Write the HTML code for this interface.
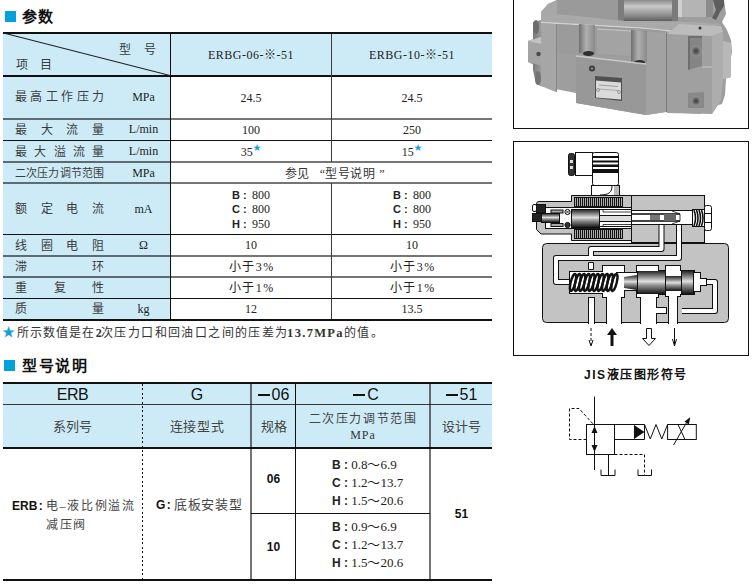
<!DOCTYPE html>
<html lang="zh-CN">
<head>
<meta charset="utf-8">
<style>
*{margin:0;padding:0;box-sizing:border-box}
html,body{width:752px;height:587px;background:#fff;overflow:hidden;position:relative}
body{font-family:"Liberation Serif",serif;color:#333}
.a{position:absolute}
.sq{position:absolute;width:11px;height:11px;background:#03a1dc}
.h{position:absolute;font-family:"Liberation Sans",sans-serif;font-weight:bold;font-size:15px;line-height:15px;color:#111;letter-spacing:1px;white-space:nowrap}
.bg{position:absolute;background:#cdebf6}
.hl{position:absolute;height:1px}
.vl{position:absolute;width:1px}
.k{background:#111}
.g{background:rgba(0,0,0,0.54)}
.g2{background:rgba(0,0,0,0.54);height:2px}
.d{background:#3a3a3a}
.t{position:absolute;white-space:nowrap;color:#3a3a3a}
.lab{position:absolute;left:15px;width:89px;display:flex;justify-content:space-between;font-size:12px;line-height:12px;color:#3c3c3c}
.unit{position:absolute;left:118px;width:51px;text-align:center;font-size:12px;line-height:12px;color:#222}
.c2{position:absolute;left:171px;width:160px;text-align:center;font-size:12px;line-height:12px;color:#222}
.c3{position:absolute;left:332px;width:160px;text-align:center;font-size:12px;line-height:12px;color:#222}
.sans{font-family:"Liberation Sans",sans-serif}
.b{font-weight:bold}
.star{color:#12a0da}
</style>
</head>
<body>
<!-- Section 1 heading -->
<div class="sq" style="left:5px;top:11px"></div>
<div class="h" style="left:22px;top:9px">参数</div>

<!-- Table 1 backgrounds -->
<div class="bg" style="left:3px;top:34px;width:489px;height:41px"></div>
<div class="bg" style="left:3px;top:77px;width:167px;height:242px"></div>

<!-- Table 1 lines -->
<div class="hl k" style="left:3px;top:32px;width:489px;height:2px"></div>
<div class="hl k" style="left:3px;top:75px;width:489px;height:2px"></div>
<div class="hl g2" style="left:3px;top:118px;width:489px"></div>
<div class="hl k" style="left:3px;top:140px;width:489px"></div>
<div class="hl g2" style="left:3px;top:161px;width:489px"></div>
<div class="hl g2" style="left:3px;top:182px;width:489px"></div>
<div class="hl k" style="left:3px;top:234px;width:489px"></div>
<div class="hl g2" style="left:3px;top:255px;width:489px"></div>
<div class="hl g2" style="left:3px;top:276px;width:489px"></div>
<div class="hl k" style="left:3px;top:298px;width:489px"></div>
<div class="hl k" style="left:3px;top:319px;width:489px;height:2px"></div>
<div class="vl k" style="left:170px;top:32px;height:289px"></div>
<div class="vl d" style="left:331px;top:34px;height:128px"></div>
<div class="vl d" style="left:331px;top:183px;height:136px"></div>
<svg class="a" style="left:0;top:0" width="200" height="80"><line x1="3.5" y1="33" x2="170" y2="75.5" stroke="#222" stroke-width="1.1"/></svg>

<!-- Table 1 header text -->
<div class="t" style="left:119px;top:43.5px;font-size:12px;line-height:12px;letter-spacing:13px">型号</div>
<div class="t" style="left:16px;top:59px;font-size:12px;line-height:12px;letter-spacing:12px">项目</div>
<div class="c2" style="top:49px;letter-spacing:0.5px">ERBG-06-※-51</div>
<div class="c3" style="top:49px;letter-spacing:0.5px">ERBG-10-※-51</div>

<!-- Row labels -->
<div class="lab" style="top:91px"><span>最</span><span>高</span><span>工</span><span>作</span><span>压</span><span>力</span></div>
<div class="unit" style="top:91px">MPa</div>
<div class="c2" style="top:92px">24.5</div>
<div class="c3" style="top:92px">24.5</div>

<div class="lab" style="top:124px"><span>最</span><span>大</span><span>流</span><span>量</span></div>
<div class="unit" style="top:123px">L/min</div>
<div class="c2" style="top:124px">100</div>
<div class="c3" style="top:124px">250</div>

<div class="lab" style="top:146px"><span>最</span><span>大</span><span>溢</span><span>流</span><span>量</span></div>
<div class="unit" style="top:145px">L/min</div>
<div class="c2" style="top:146px">35<span class="star sans" style="font-size:8px;position:relative;top:-6.5px;margin-left:0.5px">★</span></div>
<div class="c3" style="top:146px">15<span class="star sans" style="font-size:8px;position:relative;top:-6.5px;margin-left:0.5px">★</span></div>

<div class="lab" style="top:168px;font-size:11px;line-height:11px"><span>二</span><span>次</span><span>压</span><span>力</span><span>调</span><span>节</span><span>范</span><span>围</span></div>
<div class="unit" style="top:167px">MPa</div>
<div class="a" style="left:285px;top:168px;font-size:12px;line-height:12px;color:#333;white-space:nowrap">参见<span style="display:inline-block;width:16px;text-align:right">“</span><span style="letter-spacing:0.7px">型号说明</span><span style="display:inline-block;width:12px;text-align:center">”</span></div>

<div class="lab" style="top:203px"><span>额</span><span>定</span><span>电</span><span>流</span></div>
<div class="unit" style="top:203px">mA</div>
<div class="c2" style="top:188px;line-height:14.3px;text-align:left;padding-left:61px"><span class="sans b" style="font-size:11px">B</span> <span class="sans b" style="font-size:11px">:</span>&nbsp;&thinsp;800<br><span class="sans b" style="font-size:11px">C</span> <span class="sans b" style="font-size:11px">:</span>&nbsp;&thinsp;800<br><span class="sans b" style="font-size:11px">H</span> <span class="sans b" style="font-size:11px">:</span>&nbsp;&thinsp;950</div>
<div class="c3" style="top:188px;line-height:14.3px;text-align:left;padding-left:61px"><span class="sans b" style="font-size:11px">B</span> <span class="sans b" style="font-size:11px">:</span>&nbsp;&thinsp;800<br><span class="sans b" style="font-size:11px">C</span> <span class="sans b" style="font-size:11px">:</span>&nbsp;&thinsp;800<br><span class="sans b" style="font-size:11px">H</span> <span class="sans b" style="font-size:11px">:</span>&nbsp;&thinsp;950</div>

<div class="lab" style="top:240px"><span>线</span><span>圈</span><span>电</span><span>阻</span></div>
<div class="unit" style="top:239px">Ω</div>
<div class="c2" style="top:239px">10</div>
<div class="c3" style="top:239px">10</div>

<div class="lab" style="top:261px"><span>滞</span><span>环</span></div>
<div class="c2" style="top:261px;letter-spacing:1.5px;text-indent:1.5px">小于3%</div>
<div class="c3" style="top:261px;letter-spacing:1.5px;text-indent:1.5px">小于3%</div>

<div class="lab" style="top:282px"><span>重</span><span>复</span><span>性</span></div>
<div class="c2" style="top:282px;letter-spacing:1.5px;text-indent:1.5px">小于1%</div>
<div class="c3" style="top:282px;letter-spacing:1.5px;text-indent:1.5px">小于1%</div>

<div class="lab" style="top:303px"><span>质</span><span>量</span></div>
<div class="unit" style="top:303px">kg</div>
<div class="c2" style="top:303px">12</div>
<div class="c3" style="top:303px">13.5</div>

<!-- footnote -->
<div class="t star sans" style="left:2px;top:325px;font-size:13px;line-height:13px">★</div>
<div class="t" style="left:16.5px;top:326.5px;font-size:12px;line-height:12px;color:#333"><span style="letter-spacing:1.2px">所示数值是在</span><span style="font-size:12px;font-weight:bold;letter-spacing:-0.8px">2</span><span style="letter-spacing:1.4px">次压力口和回油口之间的压差</span><span>为</span><span style="font-size:12.5px;font-weight:bold;letter-spacing:1.3px">13.7MPa</span><span style="letter-spacing:1.4px">的值。</span></div>

<!-- Section 2 heading -->
<div class="sq" style="left:4px;top:360px"></div>
<div class="h" style="left:22px;top:358px;letter-spacing:1.7px">型号说明</div>

<!-- Table 2 -->
<div class="bg" style="left:3px;top:384px;width:489px;height:63px"></div>
<div class="hl k" style="left:3px;top:382px;width:489px;height:2px"></div>
<div class="hl d" style="left:3px;top:404px;width:489px"></div>
<div class="hl k" style="left:3px;top:447px;width:489px;height:2px"></div>
<div class="hl k" style="left:251px;top:513px;width:179px"></div>
<div class="hl k" style="left:3px;top:579px;width:489px;height:2px"></div>
<div class="a" style="left:142px;top:384px;width:1px;height:195px;background:repeating-linear-gradient(to bottom,#111 0 2px,transparent 2px 4.4px)"></div>
<div class="vl g" style="left:250px;top:384px;height:195px;width:2px"></div>
<div class="vl k" style="left:295px;top:384px;height:195px"></div>
<div class="vl g" style="left:429px;top:384px;height:195px;width:2px"></div>

<div class="a sans" style="left:3px;width:139px;top:387px;text-align:center;font-size:16px;line-height:16px;letter-spacing:-0.4px;color:#111">ERB</div>
<div class="a sans" style="left:143px;width:108px;top:387px;text-align:center;font-size:16px;line-height:16px;color:#111">G</div>
<div class="a sans" style="left:252px;width:43px;top:387px;text-align:center;font-size:16px;line-height:16px;color:#111"><span style="display:inline-block;width:12px;height:2px;background:#111;vertical-align:4.5px;margin-right:2px"></span>06</div>
<div class="a sans" style="left:299px;width:134px;top:387px;text-align:center;font-size:16px;line-height:16px;color:#111"><span style="display:inline-block;width:12px;height:2px;background:#111;vertical-align:4.5px;margin-right:2px"></span>C</div>
<div class="a sans" style="left:431px;width:61px;top:387px;text-align:center;font-size:16px;line-height:16px;color:#111"><span style="display:inline-block;width:12px;height:2px;background:#111;vertical-align:4.5px;margin-right:2px"></span>51</div>

<div class="a" style="left:3px;width:139px;top:420px;text-align:center;font-size:13px;line-height:13px;color:#444">系列号</div>
<div class="a" style="left:143px;width:108px;top:420px;text-align:center;font-size:13px;line-height:13px;letter-spacing:0.7px;color:#444">连接型式</div>
<div class="a" style="left:252px;width:43px;top:420px;text-align:center;font-size:13px;line-height:13px;color:#444">规格</div>
<div class="a" style="left:296px;width:134px;top:413px;text-align:center;font-size:12px;line-height:12px;letter-spacing:1.6px;color:#444">二次压力调节范围</div>
<div class="a" style="left:296px;width:134px;top:429px;text-align:center;font-size:12px;line-height:12px;letter-spacing:1px;color:#333">MPa</div>
<div class="a" style="left:431px;width:61px;top:420px;text-align:center;font-size:13px;line-height:13px;color:#444">设计号</div>

<div class="a" style="left:12px;top:497px;font-size:12px;line-height:18.6px;color:#444;white-space:nowrap"><span class="sans b" style="color:#111">ERB</span><span class="sans b" style="color:#111;margin-left:1.5px">:</span> <span style="letter-spacing:1.7px">电–液比例溢流</span><br><span style="padding-left:34px;letter-spacing:1.7px">减压阀</span></div>
<div class="a" style="left:156px;top:498px;font-size:13px;line-height:13px;color:#444;white-space:nowrap"><span class="sans b" style="color:#111;font-size:12px">G</span><span class="sans b" style="color:#111;font-size:12px;margin-left:1.5px">:</span> <span style="letter-spacing:0.7px">底板安装型</span></div>

<div class="a sans b" style="left:252px;width:43px;top:473px;text-align:center;font-size:12px;line-height:12px;color:#111">06</div>
<div class="a sans b" style="left:252px;width:43px;top:541px;text-align:center;font-size:12px;line-height:12px;color:#111">10</div>
<div class="a sans b" style="left:431px;width:61px;top:508px;text-align:center;font-size:12px;line-height:12px;color:#111">51</div>

<div class="a" style="left:332px;top:456px;font-size:13px;line-height:17px;color:#222;white-space:nowrap"><span class="sans b" style="font-size:12px">B</span> <span class="sans b" style="font-size:12px">:</span> 0.8～6.9<br><span class="sans b" style="font-size:12px">C</span> <span class="sans b" style="font-size:12px">:</span> 1.2～13.7<br><span class="sans b" style="font-size:12px">H</span> <span class="sans b" style="font-size:12px">:</span> 1.5～20.6</div>
<div class="a" style="left:332px;top:518px;font-size:13px;line-height:17px;color:#222;white-space:nowrap"><span class="sans b" style="font-size:12px">B</span> <span class="sans b" style="font-size:12px">:</span> 0.9～6.9<br><span class="sans b" style="font-size:12px">C</span> <span class="sans b" style="font-size:12px">:</span> 1.2～13.7<br><span class="sans b" style="font-size:12px">H</span> <span class="sans b" style="font-size:12px">:</span> 1.5～20.6</div>

<!-- Right side boxes -->
<div class="a" style="left:513px;top:-2px;width:236px;height:131px;border:1.5px solid #111"></div>
<div class="a" style="left:513px;top:141px;width:236px;height:215px;border:1.5px solid #111"></div>
<div class="a sans b" style="left:584px;top:369px;font-size:12px;line-height:12px;letter-spacing:1.5px;color:#111;white-space:nowrap">JIS液压图形符号</div>


<!-- PHOTO -->
<svg class="a" style="left:500px;top:0" width="252" height="140" viewBox="500 0 252 140">
<defs>
<linearGradient id="cyl" x1="0" y1="0" x2="0" y2="1"><stop offset="0" stop-color="#8a8a8a"/><stop offset="0.3" stop-color="#c8c8c8"/><stop offset="0.75" stop-color="#8a8a8a"/><stop offset="1" stop-color="#5e5e5e"/></linearGradient>
<linearGradient id="boss" x1="0" y1="0" x2="1" y2="0"><stop offset="0" stop-color="#6e6e6e"/><stop offset="0.45" stop-color="#b0b0b0"/><stop offset="1" stop-color="#888"/></linearGradient>
<linearGradient id="lb" x1="0" y1="0" x2="1" y2="0"><stop offset="0" stop-color="#7a7a7a"/><stop offset="1" stop-color="#9a9a9a"/></linearGradient>
<radialGradient id="bolt"><stop offset="0" stop-color="#3a3a3a"/><stop offset="0.5" stop-color="#666"/><stop offset="1" stop-color="#999"/></radialGradient>
</defs>
<!-- silhouette -->
<path d="M541,12 L548,4 L557,0 L724,0 L726,14 L722,22 L727,30 L731,40 L732,52 L730,62 L726,79 L725,95 L722,104 L708,108 L700,114 L666,112 L646,115 L576,103 L576,93 L540,86 L540,68 L528,62 L528,41 L541,36 Z" fill="#9e9e9e"/>
<!-- left darker -->
<path d="M541,12 L548,4 L557,0 L557,14 L545,17 L541,22 Z" fill="#a8a8a8"/>
<path d="M533,22 L541,20 L541,86 L536,84 L533,70 Z" fill="url(#lb)"/>
<!-- upper cover -->
<path d="M557,0 L624,0 L624,21 L557,14 Z" fill="#9a9a9a"/>
<path d="M618,0 L624,0 L624,21 L618,20 Z" fill="#7c7c7c"/>
<!-- top surface band -->
<path d="M541,17 L557,14 L624,21 L690,22 L722,24 L690,33 L640,28 L541,23 Z" fill="#a9a9a9"/>
<path d="M541,22.5 L640,28 L680,32" stroke="#d2d2d2" stroke-width="1.4" fill="none"/>
<!-- cylinder -->
<rect x="624" y="0" width="54" height="21" fill="url(#cyl)"/>
<rect x="672" y="0" width="6" height="21" fill="#7a7a7a"/>
<!-- nut -->
<path d="M678,0 L713,0 L713,17 L678,17 Z" fill="#b4b4b4"/>
<path d="M678,0 L682,0 L682,17 L678,17 Z" fill="#d0d0d0"/>
<path d="M706,0 L713,0 L713,17 L706,17 Z" fill="#8c8c8c"/>
<!-- chain -->
<path d="M713,0 L724,0 L724,6 L720,12 L716,20 L712,18 L716,10 Z" fill="#5e5e5e"/>
<!-- left bolt heads -->
<ellipse cx="536" cy="27" rx="3" ry="7" fill="#6c6c6c"/>
<ellipse cx="538" cy="78" rx="3" ry="7" fill="#747474"/>
<!-- side block -->
<path d="M528,41 L541,37 L557,42 L557,70 L528,62 Z" fill="#a4a4a4"/>
<path d="M528,41 L541,37 L557,42 L541,44 Z" fill="#c2c2c2"/>
<path d="M541,44 L557,42 L557,70 L541,66 Z" fill="#9a9a9a"/>
<circle cx="538.5" cy="54" r="2.2" fill="#4a4a4a"/>
<!-- left main body front -->
<path d="M541,23 L556,24 L556,92 L541,86 Z" fill="#a6a6a6"/>
<line x1="556.5" y1="24" x2="556.5" y2="92" stroke="#888" stroke-width="1"/>
<!-- middle upper front face -->
<path d="M557,24 L646,29 L666,31 L666,58 L576,55 L557,53 Z" fill="#9b9b9b"/>
<path d="M597,28 L631,30 L631,56 L597,54 Z" fill="#a3a3a3"/>
<path d="M597,29 L631,31" stroke="#c6c6c6" stroke-width="1.2"/>
<!-- bosses -->
<path d="M579,24 L595,25 L595,54 L579,53 Z" fill="url(#boss)"/>
<ellipse cx="588.5" cy="53.5" rx="5.5" ry="2.6" fill="#2e2e2e"/>
<path d="M631,30 L647,31 L647,63 L631,62 Z" fill="url(#boss)"/>
<ellipse cx="639.5" cy="62.5" rx="5.5" ry="2.6" fill="#2e2e2e"/>
<!-- front plate -->
<path d="M576,56 L646,64 L646,115 L576,103 Z" fill="#989898"/>
<path d="M576,56 L646,64" stroke="#c8c8c8" stroke-width="1.5"/>
<circle cx="592" cy="68.5" r="3" fill="#3a3a3a"/>
<circle cx="592" cy="68.5" r="1.2" fill="#8a8a8a"/>
<!-- nameplate -->
<path d="M595,76 L622,78 L622,101 L595,98 Z" fill="#505050"/>
<path d="M596,80.5 L621,82.5 L621,99.5 L596,97.5 Z" fill="#dadada"/>
<path d="M599,85 L618,86.5" stroke="#999" stroke-width="1"/>
<path d="M599,89 L618,90.5" stroke="#aaa" stroke-width="1"/>
<circle cx="598" cy="90" r="1.5" fill="none" stroke="#888" stroke-width="0.8"/>
<circle cx="619" cy="92" r="1.5" fill="none" stroke="#888" stroke-width="0.8"/>
<!-- middle column -->
<path d="M647,31 L666,33 L666,112 L646,115 L646,64 L647,63 Z" fill="#a2a2a2"/>
<line x1="666.5" y1="33" x2="666.5" y2="112" stroke="#7a7a7a" stroke-width="1"/>
<!-- right block -->
<path d="M667,34 L679,24 L721,26 L723,32 L723,41 L731,43 L731,77 L723,79 L721,100 L712,114 L667,113 Z" fill="#a0a0a0"/>
<path d="M667,34 L679,24 L721,26 L723,32 L712,36 Z" fill="#bcbcbc"/>
<path d="M712,36 L723,32 L723,41 L731,43 L731,77 L723,79 L721,100 L712,114 Z" fill="#adadad"/>
<path d="M723,41 L731,43 L731,77 L723,79 Z" fill="#b8b8b8"/>
<path d="M688,36 L702,36 L702,66 L688,70 Z" fill="#858585"/>
<path d="M688,36 L702,36 L702,38 L690,38 L690,69 L688,70 Z" fill="#6e6e6e"/>
<circle cx="696" cy="51" r="5.5" fill="url(#bolt)"/>
<path d="M688,93 L704,92 L704,108 L688,108 Z" fill="#888"/>
<circle cx="696" cy="101" r="5" fill="url(#bolt)"/>
<circle cx="700" cy="28" r="1.5" fill="#333"/>
<path d="M702,67 L712,67" stroke="#c4c4c4" stroke-width="1"/>
</svg>

<!-- SECTION DIAGRAM -->
<svg class="a" style="left:500px;top:140px" width="252" height="220" viewBox="500 140 252 220">
<defs>
<linearGradient id="arm" x1="0" y1="0" x2="0" y2="1"><stop offset="0" stop-color="#222"/><stop offset="0.45" stop-color="#e0e0e0"/><stop offset="0.6" stop-color="#999"/><stop offset="1" stop-color="#111"/></linearGradient>
<pattern id="coil" width="2" height="10" patternUnits="userSpaceOnUse"><rect width="2" height="10" fill="#eee"/><rect width="1.3" height="10" fill="#111"/></pattern>
<pattern id="spr" width="5" height="20" patternUnits="userSpaceOnUse"><path d="M0,0 L5,20" stroke="#111" stroke-width="2.4"/></pattern>
</defs>
<g stroke="#111" stroke-width="1">
<!-- connector -->
<rect x="568.5" y="153.5" width="6" height="22" rx="2" fill="#333"/>
<rect x="570" y="160" width="3" height="3" fill="#ddd" stroke="none"/>
<rect x="570" y="166" width="3" height="3" fill="#ddd" stroke="none"/>
<rect x="575.5" y="152.5" width="17" height="23" fill="#fff"/>
<rect x="592.5" y="152.5" width="26" height="33" rx="2" fill="#fff"/>
<rect x="593" y="156" width="25" height="2" fill="#111" stroke="none"/>
<rect x="593" y="160.5" width="25" height="2" fill="#111" stroke="none"/>
<rect x="593" y="164.5" width="25" height="2.5" fill="#111" stroke="none"/>
<rect x="593" y="169" width="25" height="4" fill="#111" stroke="none"/>
<rect x="591.5" y="185.5" width="28" height="10" fill="#fff"/>
<rect x="614" y="186" width="5" height="9" fill="#bbb" stroke="none"/>
<path d="M612,186 C612,192 609,195 600,195" fill="none"/>
<!-- solenoid housing -->
<path d="M571.5,195.5 L631.5,195.5 L631.5,240.5 L571.5,240.5 L571.5,234 L541,234 L536.5,229.5 L536.5,204 Q536.5,201.5 539,201.5 L571.5,201.5 Z" fill="#c3c3c3"/>
<!-- coils -->
<rect x="574.5" y="197.5" width="48" height="9" fill="url(#coil)"/>
<rect x="574.5" y="229.5" width="48" height="9" fill="url(#coil)"/>
<!-- bore -->
<rect x="545.5" y="207.5" width="86" height="21" fill="#fff"/>
<rect x="599.5" y="209.5" width="32" height="17" fill="#fff"/>
<rect x="532.5" y="204.5" width="4" height="7" rx="1.5" fill="#fff"/>
<rect x="536.5" y="204.5" width="9" height="8" fill="#222"/>
<rect x="532.5" y="213.5" width="9" height="8" fill="#222"/>
<rect x="541.5" y="213.5" width="18" height="9" fill="url(#arm)"/>
<rect x="551" y="210" width="12" height="3" fill="#aaa"/>
<rect x="551" y="223.5" width="12" height="3" fill="#aaa"/>
<circle cx="567.5" cy="212" r="2.6" fill="#fff"/>
<path d="M565.7,210.2 L569.3,213.8 M569.3,210.2 L565.7,213.8" stroke-width="0.8"/>
<circle cx="567.5" cy="225" r="2.6" fill="#333"/>
<rect x="571.5" y="209.5" width="28" height="18" fill="url(#arm)"/>
<rect x="599.5" y="215.5" width="32" height="6" fill="#ddd"/>
<path d="M603,209.5 L603,212 L631.5,212 M603,227 L603,224.5 L631.5,224.5" fill="none" stroke-width="0.8"/>
<!-- pilot body -->
<rect x="631.5" y="195.5" width="73" height="47" fill="#c3c3c3"/>
<rect x="631.5" y="210.5" width="62" height="14" fill="#fff"/>
<rect x="632" y="213" width="48" height="2" fill="#444" stroke="none"/>
<rect x="632" y="220" width="48" height="2" fill="#444" stroke="none"/>
<rect x="650" y="215" width="10" height="5" fill="#777" stroke="none"/>
<rect x="664" y="214" width="12" height="7" fill="#666" stroke="none"/>
<path d="M672,211 L680,214 L680,221 L672,224" fill="none" stroke-width="0.8"/>
<rect x="692.5" y="209.5" width="12" height="17" fill="#fff"/>
<path d="M694,210 q3,8 0,16 M696.5,210 q3,8 0,16 M699,210 q3,8 0,16 M701.5,210 q3,8 0,16" fill="none" stroke="#111" stroke-width="1.6"/>
<rect x="704.5" y="205.5" width="7" height="25" rx="2" fill="#fff"/>
<path d="M704.5,213.5 L711.5,213.5 M704.5,222.5 L711.5,222.5" />
<!-- lower body -->
<rect x="542.5" y="243.5" width="186" height="79" rx="4" fill="#c3c3c3"/>
</g>
<!-- channels (white with outline) -->
<g fill="none" stroke-linejoin="round">
<path d="M679,225 L679,258 L556,258 L556,282 L570,282" stroke="#111" stroke-width="6"/>
<path d="M679,225 L679,258 L556,258 L556,282 L570,282" stroke="#fff" stroke-width="4"/>
<path d="M661.5,225 L661.5,249 L591,249 L591,255" stroke="#111" stroke-width="6"/>
<path d="M661.5,225 L661.5,249 L591,249 L591,256" stroke="#fff" stroke-width="4"/>
<rect x="588.5" y="262.5" width="5" height="7" fill="#fff" stroke="#111" stroke-width="1"/>
<path d="M706,282 L715,282 L715,311 L682,311" stroke="#111" stroke-width="6"/>
<path d="M706,282 L715,282 L715,311 L682,311" stroke="#fff" stroke-width="4"/>
<path d="M655,310 L666,310" stroke="#111" stroke-width="6"/>
<path d="M655,310 L666,310" stroke="#fff" stroke-width="4"/>
</g>
<g stroke="#111" stroke-width="1">
<!-- spool bore -->
</g>
<g>
<rect x="570" y="272" width="46" height="21" fill="none" stroke="#111" stroke-width="2"/>
<rect x="616" y="273" width="21" height="17" fill="none" stroke="#111" stroke-width="2"/>
<rect x="603" y="266" width="21" height="6" fill="none" stroke="#111" stroke-width="2"/>
<rect x="603" y="290" width="21" height="7" fill="none" stroke="#111" stroke-width="2"/>
<rect x="607" y="290" width="14" height="33" fill="none" stroke="#111" stroke-width="2"/>
<rect x="637" y="266" width="21" height="5" fill="none" stroke="#111" stroke-width="2"/>
<rect x="637" y="293" width="21" height="4" fill="none" stroke="#111" stroke-width="2"/>
<rect x="641" y="293" width="15" height="30" fill="none" stroke="#111" stroke-width="2"/>
<rect x="656" y="308" width="10" height="5" fill="none" stroke="#111" stroke-width="2"/>
<rect x="666" y="266" width="14" height="5" fill="none" stroke="#111" stroke-width="2"/>
<rect x="666" y="291" width="14" height="5" fill="none" stroke="#111" stroke-width="2"/>
<rect x="669" y="291" width="8" height="32" fill="none" stroke="#111" stroke-width="2"/>
<rect x="637" y="271" width="57" height="23" fill="none" stroke="#111" stroke-width="2"/>
<rect x="694" y="273" width="6" height="18" fill="none" stroke="#111" stroke-width="2"/>
<rect x="700" y="279" width="6" height="6" fill="none" stroke="#111" stroke-width="2"/>
<rect x="589" y="298" width="5" height="25" fill="none" stroke="#111" stroke-width="2"/>
<rect x="570" y="272" width="46" height="21" fill="#fff"/>
<rect x="616" y="273" width="21" height="17" fill="#fff"/>
<rect x="603" y="266" width="21" height="6" fill="#fff"/>
<rect x="603" y="290" width="21" height="7" fill="#fff"/>
<rect x="607" y="290" width="14" height="35" fill="#fff"/>
<rect x="637" y="266" width="21" height="5" fill="#fff"/>
<rect x="637" y="293" width="21" height="4" fill="#fff"/>
<rect x="641" y="293" width="15" height="32" fill="#fff"/>
<rect x="656" y="308" width="10" height="5" fill="#fff"/>
<rect x="666" y="266" width="14" height="5" fill="#fff"/>
<rect x="666" y="291" width="14" height="5" fill="#fff"/>
<rect x="669" y="291" width="8" height="34" fill="#fff"/>
<rect x="637" y="271" width="57" height="23" fill="#fff"/>
<rect x="694" y="273" width="6" height="18" fill="#fff"/>
<rect x="700" y="279" width="6" height="6" fill="#fff"/>
<rect x="589" y="298" width="5" height="27" fill="#fff"/>
<ellipse cx="573.0" cy="282.5" rx="2.3" ry="8.8" transform="rotate(14 573.0 282.5)" fill="none" stroke="#111" stroke-width="2.4"/><ellipse cx="577.6" cy="282.5" rx="2.3" ry="8.8" transform="rotate(14 577.6 282.5)" fill="none" stroke="#111" stroke-width="2.4"/><ellipse cx="582.2" cy="282.5" rx="2.3" ry="8.8" transform="rotate(14 582.2 282.5)" fill="none" stroke="#111" stroke-width="2.4"/><ellipse cx="586.8" cy="282.5" rx="2.3" ry="8.8" transform="rotate(14 586.8 282.5)" fill="none" stroke="#111" stroke-width="2.4"/><ellipse cx="591.4" cy="282.5" rx="2.3" ry="8.8" transform="rotate(14 591.4 282.5)" fill="none" stroke="#111" stroke-width="2.4"/><ellipse cx="596.0" cy="282.5" rx="2.3" ry="8.8" transform="rotate(14 596.0 282.5)" fill="none" stroke="#111" stroke-width="2.4"/><ellipse cx="600.6" cy="282.5" rx="2.3" ry="8.8" transform="rotate(14 600.6 282.5)" fill="none" stroke="#111" stroke-width="2.4"/><ellipse cx="605.2" cy="282.5" rx="2.3" ry="8.8" transform="rotate(14 605.2 282.5)" fill="none" stroke="#111" stroke-width="2.4"/><ellipse cx="609.8" cy="282.5" rx="2.3" ry="8.8" transform="rotate(14 609.8 282.5)" fill="none" stroke="#111" stroke-width="2.4"/><ellipse cx="614.4" cy="282.5" rx="2.3" ry="8.8" transform="rotate(14 614.4 282.5)" fill="none" stroke="#111" stroke-width="2.4"/>
<path d="M624,277 L637,275 L637,290 L624,288 Z" fill="url(#arm)"/>
<rect x="637" y="271" width="28.5" height="23" fill="url(#arm)"/>
<rect x="665.5" y="276" width="16" height="15" fill="url(#arm)"/>
<rect x="681.5" y="271" width="12.5" height="23" fill="url(#arm)"/>
<path d="M637.5,271 L637.5,294 M665.5,271 L665.5,294 M681.5,271 L681.5,294 M693.5,271 L693.5,294" stroke="#111" stroke-width="1"/>
</g>
<!-- arrows -->
<g stroke="#111" stroke-width="1" fill="none">
<path d="M591,328 L591,345" stroke-dasharray="3,2"/>
<path d="M589,340 L591,346 L593,340" />
<path d="M674.5,328 L674.5,345"/>
<path d="M672.5,339 L674.5,346 L676.5,339"/>
<path d="M646.5,328.5 L651.5,328.5 L651.5,338.5 L655.5,338.5 L649,345.5 L642.5,338.5 L646.5,338.5 Z" fill="#fff"/>
</g>
<path d="M610.5,346 L613.5,346 L613.5,335 L617,335 L612,328 L607,335 L610.5,335 Z" fill="#111"/>
</svg>

<!-- JIS SYMBOL -->
<svg class="a" style="left:560px;top:395px" width="145" height="90" viewBox="560 395 145 90">
<g stroke="#111" stroke-width="1" fill="none">
<line x1="594.5" y1="396.5" x2="594.5" y2="470"/>
<rect x="586.5" y="424.5" width="28" height="30"/>
<path d="M614.5,424.5 L644.5,424.5 M614.5,439.5 L644.5,439.5 M644.5,424.5 L644.5,439.5" /><path d="M634.5,425 L634.5,439" stroke="#999"/>
<path d="M644.5,424.5 L650.3,439 L656,424.5 L661.8,439 L667.6,424.5"/>
<rect x="667.6" y="424.5" width="28.7" height="15"/>
<line x1="673.6" y1="445" x2="688" y2="420"/>
<line x1="678" y1="424.5" x2="685" y2="439.5"/>
<path d="M586.5,439.5 L569.5,439.5 L569.5,408.5 L579,408.5 L594,425" stroke-dasharray="3,2"/>
<path d="M614.5,454.5 L644.5,454.5 L644.5,475" stroke-dasharray="3,2"/>
<line x1="608.5" y1="454.5" x2="608.5" y2="475"/>
<path d="M601,469.5 L601,475.5 L615,475.5 L615,469.5"/>
<path d="M638,469.5 L638,475.5 L651.5,475.5 L651.5,469.5"/>
</g>
<path d="M634,425 L644.5,432 L634,439 Z" fill="#111"/>
<path d="M594.5,426 L591.5,433 L597.5,433 Z" fill="#111"/>
<path d="M594.5,452 L591.5,445 L597.5,445 Z" fill="#111"/>
<path d="M690.3,417.3 L684.5,421.5 L688.8,424.5 Z" fill="#111"/>
</svg>

</body>
</html>
